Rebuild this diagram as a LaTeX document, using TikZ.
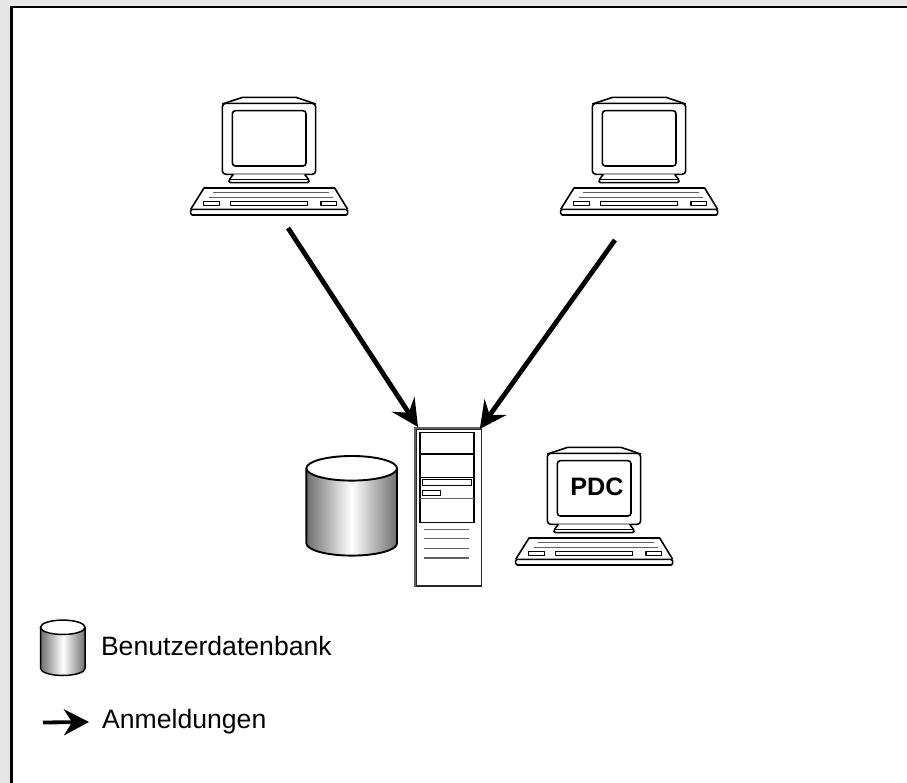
\documentclass[tikz,border=0pt]{standalone}
\usepackage{fontspec}
\setmainfont{Liberation Sans}
\usetikzlibrary{arrows.meta}
\definecolor{bggray}{HTML}{E6E6E6}
\definecolor{cylgray}{HTML}{6E6E6E}
\definecolor{linegray}{HTML}{606060}
\newcommand\dbcyl[6]{% cx, ytop, rx, ry, h, line width
  \path[left color=cylgray,right color=cylgray,middle color=white]
    (#1-#3,#2) -- (#1-#3,#2+#5) arc[start angle=180,end angle=0,x radius=#3,y radius=#4] -- (#1+#3,#2) -- cycle;
  \draw[line width=#6]
    (#1-#3,#2) -- (#1-#3,#2+#5) arc[start angle=180,end angle=0,x radius=#3,y radius=#4] -- (#1+#3,#2);
  \draw[line width=#6,fill=white] (#1,#2) ellipse[x radius=#3,y radius=#4];
}
\tikzset{
  x=1pt,y=-1pt,
  flow/.style={line width=4.8pt,-{Stealth[length=27pt,width=27pt,inset=10pt]}},
  legendflow/.style={line width=3.8pt,-{Stealth[length=25pt,width=26pt,inset=8pt]}},
  label/.style={anchor=base west,inner sep=0pt,font=\fontsize{26.6}{30}\selectfont},
  servercase/.style={draw=black!85,line width=1.6pt,minimum width=65.7pt,minimum height=157.3pt,inner sep=0pt,anchor=north west},
  computer/.pic={
    \begin{scope}[x=0.33333pt,y=-0.33333pt,line width=1.6pt,line join=round]
      \draw[fill=white] (157,72) -- (218,52) -- (378,52) -- (437,72);
      \draw[fill=white,rounded corners=3.5pt] (157,70) rectangle (437,283);
      \draw[rounded corners=3pt] (187,92) rectangle (408,258);
      \draw[fill=white,rounded corners=1.5pt] (190,283) -- (177,300) -- (177,308) -- (417,308) -- (417,300) -- (404,283);
      \draw[line join=round] (177,299) -- (417,299);
      \draw[fill=white] (62,388) -- (102,324) -- (494,324) -- (533,388);
      \draw[fill=white,rounded corners=1.5pt] (62,388) rectangle (533,405);
      \draw[linegray] (128,338) -- (478,338) (116,353) -- (490,353);
      \draw (100,364) rectangle (148,377) (181,364) rectangle (413,377) (453,364) rectangle (500,377);
    \end{scope}
  }
}
\begin{document}
\begin{tikzpicture}
  \useasboundingbox (0,0) rectangle (907,783);
  \fill[bggray] (0,0) rectangle (907,783);
  \fill[white] (12,7) rectangle (907,783);
  \draw[line width=2.2pt] (11.5,783) -- (11.5,7) -- (907,7);

  \pic at (170,80) {computer};
  \pic at (540,80) {computer};
  \pic at (495,430) {computer};
  \node[font=\bfseries\fontsize{25.2}{28}\selectfont,inner sep=0pt] (pdc) at (597,486.5) {PDC};

  \dbcyl{351.7}{468.3}{45.3}{12.3}{75}{1.9pt}

  \node[servercase] (server) at (415,428) {};
  \draw[linegray,line width=1.6pt] (server.south west) -- (server.north west) -- (server.north east);
  \draw[line width=1.4pt] (420,432.3) rectangle (474,522.3);
  \draw[line width=1.1pt] (420,454) -- (474,454) (420,477.3) -- (474,477.3);
  \draw[linegray,line width=1.3pt] (420,498.7) -- (474,498.7);
  \draw[line width=1.2pt] (422.3,479.3) rectangle (471.7,485.3) (422.3,490.3) rectangle (440.3,495.7);
  \draw[linegray,line width=1.3pt] (424,529.3) -- (468.7,529.3) (424,538.7) -- (468.7,538.7) (424,548.3) -- (468.7,548.3) (424,558) -- (468.7,558);

  \coordinate (from1) at (288,228);
  \coordinate (from2) at (615,240);
  \draw[flow] (from1) -- ([xshift=3pt,yshift=1pt]server.north west);
  \draw[flow] (from2) -- ([xshift=-2.5pt,yshift=-1pt]server.north east);

  \dbcyl{62.8}{627.3}{22.3}{7.2}{41}{1.5pt}
  \node[label] (legenddb) at (100.8,655.5) {Benutzerdatenbank};

  \coordinate (legendstart) at (43,722.5);
  \coordinate (legendend) at (89,722);
  \draw[legendflow] (legendstart) -- (legendend);
  \node[label] (legendlogin) at (102,728) {Anmeldungen};
\end{tikzpicture}
\end{document}
